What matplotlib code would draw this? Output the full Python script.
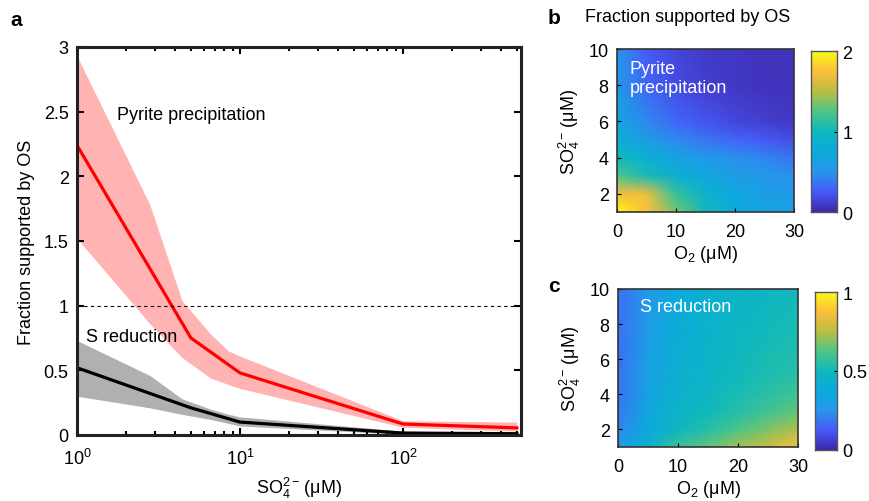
import numpy as np
import matplotlib
matplotlib.use('Agg')
import matplotlib.pyplot as plt
from matplotlib.colors import LinearSegmentedColormap

plt.rcParams['font.family'] = ['Liberation Sans', 'DejaVu Sans']
plt.rcParams['mathtext.fontset'] = 'custom'
plt.rcParams['mathtext.rm'] = 'Liberation Sans'
plt.rcParams['mathtext.it'] = 'Liberation Sans:italic'
plt.rcParams['mathtext.bf'] = 'Liberation Sans:bold'

# --- panel a data ---
so4_mean = [1, 5, 10, 100, 500]
pyrite_mean = [2.24, 0.75, 0.48, 0.085, 0.055]
sred_mean = [0.52, 0.21, 0.10, 0.015, 0.01]

so4_band = [1, 2.8, 4.4, 6.6, 8.5, 10, 100, 500]
pyrite_hi = [2.93, 1.78, 1.04, 0.78, 0.65, 0.61, 0.11, 0.10]
pyrite_lo = [1.52, 0.86, 0.60, 0.44, 0.39, 0.36, 0.06, 0.03]
sred_hi = [0.73, 0.46, 0.28, 0.20, 0.16, 0.14, 0.03, 0.015]
sred_lo = [0.30, 0.21, 0.16, 0.12, 0.09, 0.07, 0.005, 0.0]

# --- panels b, c data (rows = SO4, cols = O2) ---
o2_grid = [0, 5, 10, 15, 20, 25, 30]
so4_grid = [1, 2, 3, 4, 5, 6, 8, 10]
pyrite_map = [
    [2.00, 1.75, 1.35, 1.00, 0.78, 0.66, 0.60],
    [1.72, 1.68, 1.15, 0.88, 0.70, 0.60, 0.55],
    [1.25, 1.05, 0.85, 0.70, 0.60, 0.53, 0.48],
    [1.00, 0.82, 0.65, 0.55, 0.48, 0.43, 0.36],
    [0.82, 0.60, 0.45, 0.36, 0.30, 0.24, 0.18],
    [0.68, 0.45, 0.30, 0.22, 0.16, 0.12, 0.09],
    [0.56, 0.30, 0.18, 0.12, 0.09, 0.07, 0.06],
    [0.50, 0.25, 0.15, 0.10, 0.08, 0.07, 0.06],
]
sred_map = [
    [0.30, 0.42, 0.58, 0.65, 0.72, 0.78, 0.86],
    [0.22, 0.38, 0.48, 0.55, 0.62, 0.68, 0.74],
    [0.19, 0.35, 0.45, 0.50, 0.55, 0.60, 0.65],
    [0.18, 0.33, 0.43, 0.48, 0.52, 0.56, 0.60],
    [0.18, 0.32, 0.42, 0.46, 0.50, 0.53, 0.56],
    [0.17, 0.31, 0.41, 0.45, 0.49, 0.52, 0.54],
    [0.17, 0.29, 0.39, 0.44, 0.47, 0.50, 0.52],
    [0.17, 0.27, 0.36, 0.42, 0.46, 0.48, 0.50],
]

# rough parula
parula = LinearSegmentedColormap.from_list('parula', [
    (0.000, (0.2422, 0.1504, 0.6603)),
    (0.125, (0.2780, 0.3556, 0.9777)),
    (0.250, (0.1540, 0.5902, 0.9218)),
    (0.375, (0.0400, 0.6700, 0.8600)),
    (0.500, (0.0600, 0.7250, 0.7400)),
    (0.625, (0.3000, 0.7750, 0.5300)),
    (0.750, (0.7284, 0.7471, 0.2625)),
    (0.875, (0.9893, 0.7453, 0.2374)),
    (1.000, (0.9769, 0.9839, 0.0805)),
], N=256)

FS = 13
W, H = 869, 502
SO4_LABEL = 'SO$_4^{2\u2212}\\,$(\u03bcM)'


def fig_rect(l, t, r, b):
    return [l / W, 1 - b / H, (r - l) / W, (b - t) / H]


fig = plt.figure(figsize=(W / 100, H / 100), dpi=100)

# ---------------- panel a ----------------
ax = fig.add_axes(fig_rect(77, 48, 521, 436))
ax.fill_between(so4_band, pyrite_lo, pyrite_hi, color='#ffb3b3', lw=0)
ax.fill_between(so4_band, sred_lo, sred_hi, color='#b0b0b0', lw=0)
ax.plot(so4_mean, pyrite_mean, color='#ff0000', lw=2.3)
ax.plot(so4_mean, sred_mean, color='black', lw=2.3)
ax.axhline(1, color='black', lw=0.8, ls=(0, (3, 3)))
ax.set_xscale('log')
ax.set_xlim(1, 530)
ax.set_ylim(0, 3)
ax.set_yticks([0, 0.5, 1, 1.5, 2, 2.5, 3])
ax.set_yticklabels(['0', '0.5', '1', '1.5', '2', '2.5', '3'])
ax.tick_params(which='both', direction='in', top=True, right=True,
               labelsize=FS, width=1.5)
ax.tick_params(which='major', length=5)
ax.tick_params(which='minor', length=3)
ax.tick_params(axis='x', pad=9)
ax.tick_params(axis='y', pad=6)
for s in ax.spines.values():
    s.set_linewidth(2.2)
    s.set_color('#222222')
ax.set_ylabel('Fraction supported by OS', fontsize=FS, labelpad=6)
ax.set_xlabel(SO4_LABEL, fontsize=FS, labelpad=5)
ax.text(1.77, 2.48, 'Pyrite precipitation', fontsize=FS, va='center')
ax.text(1.13, 0.76, 'S reduction', fontsize=FS, va='center')


def heat(rect, cbrect, data, vmax, cticks, cticklabels, label, lx, ly):
    axh = fig.add_axes(rect)
    axh.pcolormesh(o2_grid, so4_grid, np.array(data), shading='gouraud',
                   cmap=parula, vmin=0, vmax=vmax)
    axh.set_xlim(0, 30)
    axh.set_ylim(1, 10)
    axh.set_xticks([0, 10, 20, 30])
    axh.set_yticks([2, 4, 6, 8, 10])
    axh.tick_params(direction='in', length=3, labelsize=FS, width=0.8)
    axh.tick_params(axis='x', pad=8)
    axh.tick_params(axis='y', pad=6)
    for s in axh.spines.values():
        s.set_linewidth(1.2)
        s.set_color('#333333')
    axh.set_ylabel(SO4_LABEL, fontsize=FS, labelpad=5)
    axh.set_xlabel('O$_2$ (\u03bcM)', fontsize=FS, labelpad=2)
    axh.text(lx, ly, label, color='white', fontsize=FS, va='top',
             linespacing=1.15)
    cax = fig.add_axes(cbrect)
    grad = np.linspace(0, vmax, 256).reshape(-1, 1)
    cax.imshow(grad, cmap=parula, vmin=0, vmax=vmax, aspect='auto',
               origin='lower', extent=[0, 1, 0, vmax])
    cax.set_xticks([])
    cax.yaxis.tick_right()
    cax.set_yticks(cticks)
    cax.set_yticklabels(cticklabels)
    cax.tick_params(direction='in', length=2, labelsize=FS, width=0.8,
                    pad=4)
    for s in cax.spines.values():
        s.set_linewidth(1.0)
        s.set_color('#555555')
    return axh


heat(fig_rect(617, 50, 794, 213), fig_rect(811, 52, 837, 213),
     pyrite_map, 2, [0, 1, 2], ['0', '1', '2'],
     'Pyrite\nprecipitation', 2.2, 9.4)
heat(fig_rect(618, 290, 798, 448), fig_rect(815, 293, 837, 451),
     sred_map, 1, [0, 0.5, 1], ['0', '0.5', '1'],
     'S reduction', 3.6, 9.5)

fig.text(10 / W, 1 - 20 / H, 'a', fontsize=15, fontweight='bold', va='center')
fig.text(548 / W, 1 - 18 / H, 'b', fontsize=15, fontweight='bold', va='center')
fig.text(548 / W, 1 - 287 / H, 'c', fontsize=15, fontweight='bold', va='center')
fig.text(585 / W, 1 - 18 / H, 'Fraction supported by OS', fontsize=FS,
         va='center')

fig.savefig('out.png', dpi=100, facecolor='white')
